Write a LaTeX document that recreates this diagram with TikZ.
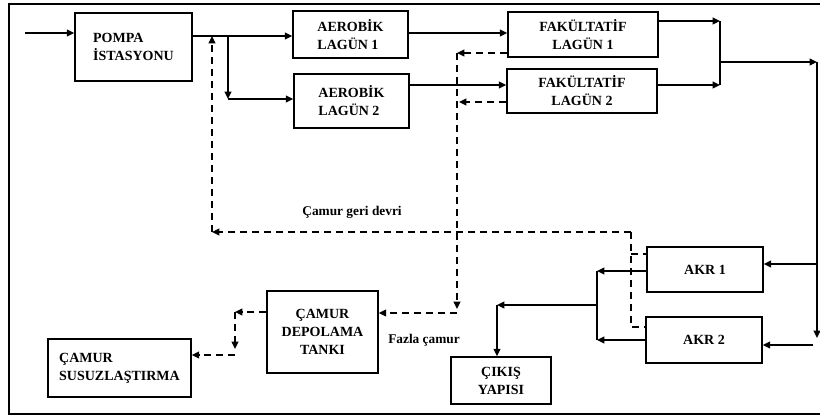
\documentclass[tikz,border=0pt]{standalone}
\usepackage{fontspec}
\setmainfont{Liberation Serif}
\usetikzlibrary{arrows.meta}
\tikzset{box/.style={draw,line width=1.1pt,inner sep=0pt,align=center,font=\bfseries\fontsize{10.5}{13.5}\selectfont},flow/.style={line width=1.3pt,-{Triangle[length=5.5pt,width=5pt]}},pipe/.style={line width=1.3pt},sludge/.style={line width=1.2pt,dash pattern=on 5.5pt off 3.5pt,-{Triangle[length=5.5pt,width=5pt]}},sludgeline/.style={line width=1.2pt,dash pattern=on 5.5pt off 3.5pt},note/.style={inner sep=1pt,font=\bfseries\fontsize{10}{12}\selectfont}}

\begin{document}
\begin{tikzpicture}[x=0.75pt,y=-0.75pt]
\path[use as bounding box] (0,0) rectangle (820,416);
\draw[line width=1.1pt] (9,4) rectangle (826,414);
\node[box,align=left,minimum width=87.75pt,minimum height=51pt] (pompa) at (133.5,47) {POMPA\\İSTASYONU};
\node[box,align=left,minimum width=86.25pt,minimum height=35.25pt] (aer1) at (350.5,34.5) {AEROBİK\\LAGÜN 1};
\node[box,align=left,minimum width=86.25pt,minimum height=40.5pt] (aer2) at (351.5,101) {AEROBİK\\LAGÜN 2};
\node[box,minimum width=112.5pt,minimum height=33.75pt] (fak1) at (583,34.5) {FAKÜLTATİF\\LAGÜN 1};
\node[box,minimum width=112.5pt,minimum height=33pt] (fak2) at (582,91) {FAKÜLTATİF\\LAGÜN 2};
\node[box,minimum width=87pt,minimum height=33.75pt] (akr1) at (705,269.5) {AKR 1};
\node[box,minimum width=87pt,minimum height=34.5pt] (akr2) at (704,340) {AKR 2};
\node[box,minimum width=75pt,minimum height=35.25pt] (cikis) at (501,380.5) {ÇIKIŞ\\YAPISI};
\node[box,minimum width=83.25pt,minimum height=61.5pt] (depo) at (322.5,332) {ÇAMUR\\DEPOLAMA\\TANKI};
\node[box,align=left,minimum width=107.25pt,minimum height=43.5pt] (susuz) at (119.5,368) {ÇAMUR\\SUSUZLAŞTIRMA};
\node[note] (geri) at (352,212) {Çamur geri devri};
\node[note] (fazla) at (424,340) {Fazla çamur};
\coordinate (giris) at (25,33);
\coordinate (ayr) at (228,36);
\coordinate (ayr2) at (228,99);
\coordinate (a1) at (450,33);
\coordinate (a2) at (450,85);
\coordinate (k1) at (720,21);
\coordinate (k2) at (720,85);
\coordinate (k3) at (720,62);
\coordinate (k4) at (817,62);
\coordinate (k5) at (817,338);
\coordinate (k6) at (817,264);
\coordinate (k7) at (813,345);
\coordinate (t1) at (597,271);
\coordinate (t2) at (597,340);
\coordinate (t3) at (597,305);
\coordinate (t4) at (497,305);
\coordinate (s1) at (457,53);
\coordinate (s2) at (459,102);
\coordinate (s3) at (457,309);
\coordinate (s4) at (457,313);
\coordinate (r1) at (631,232);
\coordinate (r2) at (212,232);
\coordinate (r4) at (631,327);
\coordinate (r5) at (631,254);
\coordinate (d1) at (235,312);
\coordinate (d2) at (235,349);
\coordinate (d3) at (235,355);
\draw[flow] (giris) -- (giris -| pompa.west);
\draw[flow] (pompa.east |- ayr) -- (aer1.west |- ayr);
\draw[flow] (ayr) -- (ayr2);
\draw[flow] (ayr2) -- (aer2.west |- ayr2);
\draw[flow] (aer1.east |- a1) -- (fak1.west |- a1);
\draw[flow] (aer2.east |- a2) -- (fak2.west |- a2);
\draw[flow] (fak1.east |- k1) -- (k1);
\draw[flow] (fak2.east |- k2) -- (k2);
\draw[pipe] (k1) -- (k2);
\draw[flow] (k3) -- (k4);
\draw[flow] (k4) -- (k5);
\draw[flow] (k6) -- (k6 -| akr1.east);
\draw[flow] (k7) -- (k7 -| akr2.east);
\draw[flow] (akr1.west |- t1) -- (t1);
\draw[flow] (akr2.west |- t2) -- (t2);
\draw[pipe] (t1) -- (t2);
\draw[flow] (t3) -- (t4);
\draw[flow] (t4) -- (t4 |- cikis.north);
\draw[sludge] (fak1.west |- s1) -- (s1);
\draw[sludge] (fak2.west |- s2) -- (s2);
\draw[sludge] (s1) -- (s3);
\draw[sludge] (s4) -- (s4 -| depo.east);
\draw[sludge] (r1) -- (r2);
\draw[sludge] (r2) -- (r2 |- ayr);
\draw[sludgeline] (r1) -- (r4) -- (r4 -| akr2.west);
\draw[sludgeline] (r5) -- (r5 -| akr1.west);
\draw[sludge] (depo.west |- d1) -- (d1);
\draw[sludge] (d1) -- (d2);
\draw[sludge] (d3) -- (d3 -| susuz.east);
\end{tikzpicture}
\end{document}
